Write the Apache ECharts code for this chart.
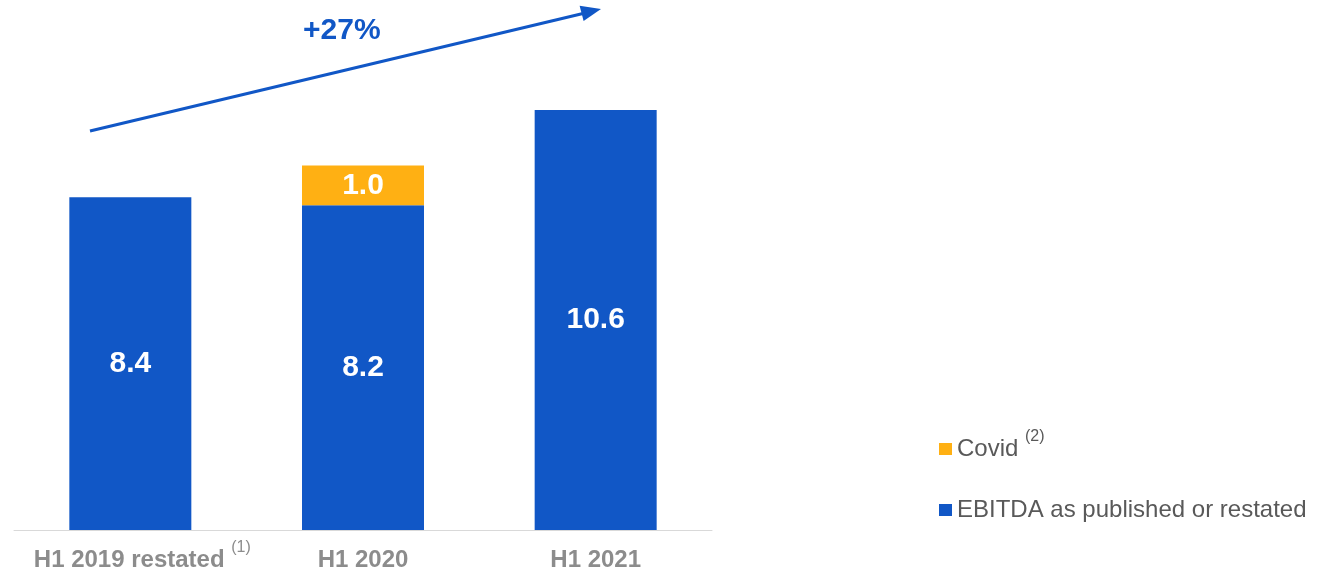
<!DOCTYPE html>
<html>
<head>
<meta charset="utf-8">
<script src="https://cdn.jsdelivr.net/npm/echarts@6/dist/echarts.min.js"></script>
<style>
html,body{margin:0;padding:0;background:#fff;}
#chart{width:1322px;height:575px;}
</style>
</head>
<body>
<div id="chart"></div>
<script>
// ---- data ----
const categories = ['H1 2019 restated', 'H1 2020', 'H1 2021'];
const categoryFootnotes = ['(1)', '', ''];
const ebitdaValues = [8.4, 8.2, 10.6];
const covidValues = [null, 1.0, null];
const ebitdaName = 'EBITDA as published or restated';
const covidName = 'Covid';
const covidFootnote = '(2)';
const growthLabel = '+27%';

// ---- style ----
const BLUE = '#1157C6';
const YELLOW = '#FFB013';
const FONT = 'Liberation Sans, Arial, sans-serif';

const chart = echarts.init(document.getElementById('chart'));

function fmtVal(p) {
  return (p.value == null || p.value === '') ? '' : Number(p.value).toFixed(1);
}

const barLabel = {
  show: true,
  position: 'inside',
  color: '#ffffff',
  fontFamily: FONT,
  fontWeight: 'bold',
  fontSize: 30,
  formatter: fmtVal
};

function richSet(color, bold) {
  return {
    p: { width: 24, fontSize: 2, lineHeight: 2 },
    z: { fontSize: 2, lineHeight: 40, width: 0 },
    m: { fontFamily: FONT, fontWeight: bold ? 'bold' : 'normal', fontSize: 24, color: color, lineHeight: 24, verticalAlign: 'middle' },
    s: { fontFamily: FONT, fontSize: 16, color: color, lineHeight: 15, verticalAlign: 'top' }
  };
}

chart.setOption({
  backgroundColor: '#ffffff',
  animation: false,
  grid: { left: 14, right: 610, top: 15, bottom: 45, containLabel: false },
  xAxis: {
    type: 'category',
    data: categories,
    axisLine: { show: true, lineStyle: { color: '#D9D9D9', width: 1 } },
    axisTick: { show: false },
    axisLabel: {
      margin: 10,
      interval: 0,
      formatter: function (v, i) {
        const fn = categoryFootnotes[i];
        if (fn) return '{z| }{p| }{m|' + v + ' }{s|' + fn + '}';
        return '{z| }{m|' + v + '}';
      },
      rich: richSet('#8C8C8C', true)
    }
  },
  yAxis: { type: 'value', min: 0, max: 13, show: false, splitLine: { show: false } },
  legend: {
    orient: 'vertical',
    left: 939,
    top: 429,
    padding: 0,
    itemWidth: 13,
    itemHeight: 12,
    itemGap: 37,
    icon: 'rect',
    data: [covidName, ebitdaName],
    formatter: function (name) {
      if (name === covidName) return '{m|' + name + ' }{s|' + covidFootnote + '}{z| }';
      return '{m|' + name + '}{z| }';
    },
    textStyle: {
      rich: richSet('#595959', false)
    }
  },
  series: [
    {
      name: ebitdaName,
      type: 'bar',
      stack: 'total',
      barWidth: 122,
      data: ebitdaValues,
      itemStyle: { color: BLUE },
      label: barLabel
    },
    {
      name: covidName,
      type: 'bar',
      stack: 'total',
      barWidth: 122,
      data: covidValues,
      itemStyle: { color: YELLOW },
      label: barLabel
    }
  ],
  graphic: [
    {
      type: 'line',
      shape: { x1: 90, y1: 131, x2: 583, y2: 13.5 },
      style: { stroke: BLUE, lineWidth: 3 },
      silent: true
    },
    {
      type: 'polygon',
      shape: { points: [[601, 9], [583.6, 21], [579.6, 5.8]] },
      style: { fill: BLUE },
      silent: true
    },
    {
      type: 'text',
      left: 303,
      top: 16,
      style: {
        text: growthLabel,
        fill: BLUE,
        font: 'bold 30px ' + FONT
      },
      silent: true
    }
  ]
});
</script>
</body>
</html>
